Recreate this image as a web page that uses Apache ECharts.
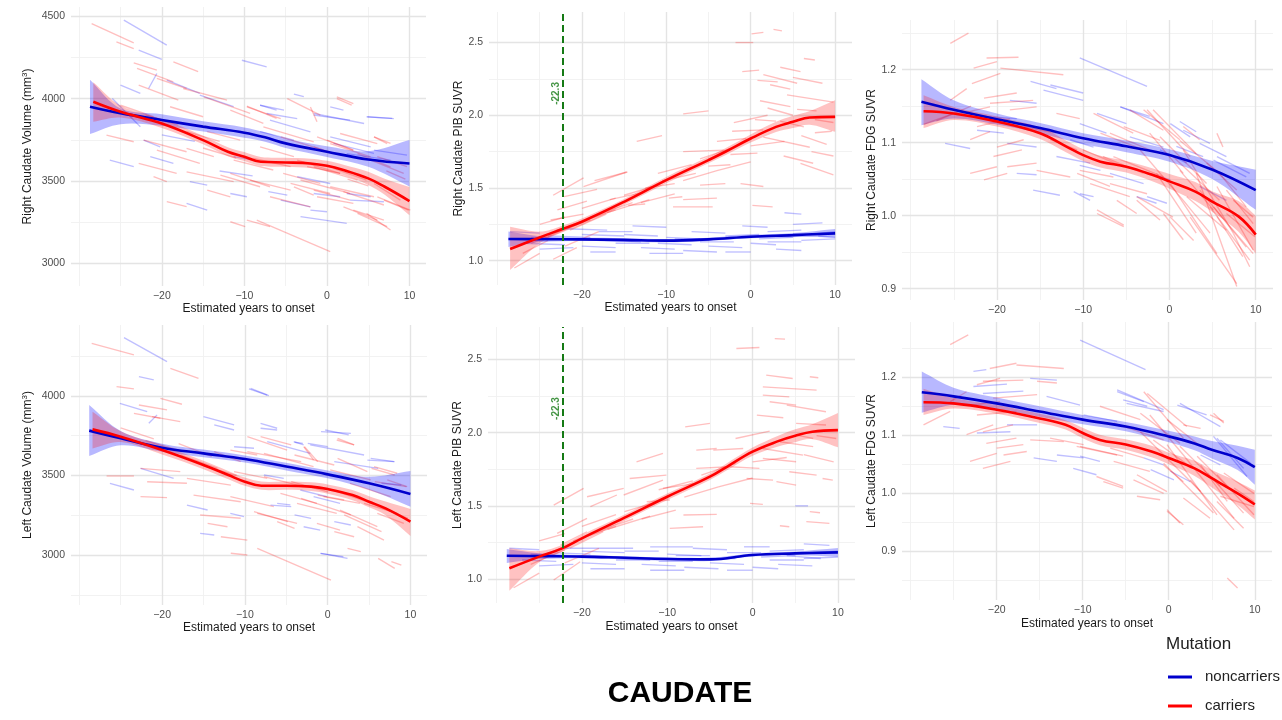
<!DOCTYPE html>
<html>
<head>
<meta charset="utf-8">
<script src="https://cdn.jsdelivr.net/npm/echarts@6/dist/echarts.min.js"></script>
<style>
  html, body { margin: 0; padding: 0; background: #ffffff; }
  #chart { width: 1282px; height: 720px; }
</style>
</head>
<body>
<div id="chart"></div>
<script>
// ---------------- shared axis values ----------------
const xTickLabels = [-20, -10, 0, 10];
const xGridMajor = [-20, -10, 0, 10];
const xGridMinor = [-30, -25, -15, -5, 5];
const onsetThreshold = -22.3;

const volMajorR = [3000, 3500, 4000, 4500];
const volMinorR = [3250, 3750, 4250];
const volMajorL = [3000, 3500, 4000];
const volMinorL = [2750, 3250, 3750, 4250];
const pibMajor = [1.0, 1.5, 2.0, 2.5];
const pibMinor = [1.25, 1.75, 2.25];
const fdgMajor = [0.9, 1.0, 1.1, 1.2];
const fdgMinorR = [0.95, 1.05, 1.15, 1.25];
const fdgMinorL = [0.85, 0.95, 1.05, 1.15, 1.25];

// ---------------- Right caudate volume ----------------
const rVolNonX    = [-28.7, -25, -20, -15, -10, -7.5, -5, 0, 5, 10];
const rVolNonMean = [3951, 3912, 3870, 3830, 3793, 3765, 3728, 3677, 3630, 3606];
const rVolNonLo   = [3785, 3845, 3835, 3800, 3762, 3738, 3700, 3645, 3585, 3465];
const rVolNonHi   = [4115, 3940, 3905, 3862, 3825, 3795, 3757, 3710, 3680, 3748];
const rVolCarX    = [-28.3, -25, -20, -15, -12, -10, -8, -5, -2, 0, 2, 5, 7, 10];
const rVolCarMean = [3981, 3920, 3849, 3748, 3677, 3647, 3616, 3612, 3606, 3592, 3566, 3515, 3464, 3377];
const rVolCarLo   = [3860, 3885, 3822, 3722, 3650, 3620, 3590, 3585, 3578, 3562, 3535, 3475, 3415, 3290];
const rVolCarHi   = [4100, 3958, 3876, 3775, 3705, 3675, 3645, 3640, 3635, 3622, 3598, 3555, 3512, 3462];
const rVolCarSeg = [
  [-28.5,4457,-23.4,4340],[-25.5,4346,-23.4,4305],[-23.4,4218,-20.6,4174],[-18.6,4224,-15.6,4164],
  [-23.0,4184,-18.6,4103],[-22.8,4082,-18.0,3991],[-20.6,4123,-17.0,4062],[-17.4,4062,-12.1,3991],
  [-14.9,4011,-9.3,3910],[-9.7,3955,-6.1,3880],[-4.8,4000,-0.8,3900],[1.2,4001,3.0,3961],
  [-26.7,3778,-23.4,3738],[-22.2,3748,-17.0,3677],[-20.6,3687,-15.4,3606],[-22.8,3606,-18.2,3545],
  [-21.0,3525,-19.4,3495],[-17.0,3555,-11.3,3495],[-14.5,3444,-11.7,3403],[-19.4,3373,-17.0,3343],
  [-12.9,3535,-8.1,3464],[-11.7,3251,-9.9,3221],[-8.5,3261,0.4,3069],[-8.9,3636,-4.4,3586],
  [-5.3,3545,-0.8,3484],[-4.0,3464,-1.6,3413],[-3.2,3505,2.8,3424],[-1.2,3403,3.2,3363],
  [0.8,3576,4.8,3505],[2.0,3434,6.9,3353],[3.2,3322,6.9,3261],[4.8,3302,7.7,3201],
  [5.7,3768,7.7,3728],[5.7,3484,8.9,3383],[6.9,3383,9.9,3322],[0.0,3748,3.2,3687],
  [-1.6,3707,0.8,3667],[-11.3,3626,-6.5,3566],[-8.1,3707,-4.0,3647],[-2.4,3586,1.6,3545],
  [-14.5,3799,-10.5,3748],[-17.0,3697,-13.7,3647],[6.1,3647,9.7,3586],[-19.0,3951,-15.0,3890],
  [-2.0,3950,-1.2,3860],[2.5,3510,5.0,3470],[7.2,3560,9.5,3510],
  [-11.7,3930,-7.7,3849],[-9.7,3950,-5.6,3879],[-7.7,3829,-1.6,3737],[-5.6,3768,-0.4,3687],
  [-3.6,3626,1.6,3545],[-1.6,3585,3.7,3504],[0.4,3727,5.3,3646],[1.6,3788,6.1,3727],
  [3.7,3666,7.7,3585],[5.3,3626,9.3,3545],[-11.7,3545,-6.9,3464],[-9.3,3504,-4.4,3443],
  [-6.9,3403,-2.0,3342],[-4.4,3484,0.4,3423],[-1.6,3443,2.8,3383],[0.4,3464,5.7,3403],
  [2.0,3342,6.1,3261],[3.7,3302,7.3,3221],[6.1,3403,10.1,3322],[-9.7,3261,-6.9,3221],
  [1.2,4011,3.2,3970],[5.7,3768,7.3,3727],[-1.2,3768,3.2,3687],
  [-25.0,3960,-21.0,3890],[-22.0,3900,-18.0,3840],[-17.0,3800,-13.0,3740],[-15.0,3700,-11.0,3640]
];
const rVolNonSeg = [
  [-24.6,4478,-19.4,4326],[-22.8,4295,-20.0,4239],[-10.3,4234,-7.3,4194],[-4.0,4028,-2.8,4012],
  [-21.6,4062,-20.6,4153],[-25.0,4082,-22.6,4032],[-19.4,4113,-15.4,4032],[-15.4,4022,-11.3,3951],
  [-8.1,3961,-6.1,3930],[-1.6,3900,2.8,3870],[4.8,3890,7.9,3880],[-26.0,4001,-22.6,3829],
  [-22.2,3748,-20.2,3707],[-26.3,3626,-23.4,3586],[-21.4,3647,-18.6,3606],[-16.6,3495,-14.5,3474],
  [-17.0,3363,-14.5,3322],[-7.1,3434,-4.8,3413],[-3.2,3282,2.4,3241],[0.8,3728,5.7,3667],
  [5.7,3687,9.7,3657],[2.8,3383,6.9,3373],[-8.1,3799,-4.0,3748],[-11.3,3647,-8.9,3626],
  [-2.0,3322,0.0,3312],[-20.0,3780,-16.0,3740],[-13.0,3560,-9.0,3530],
  [-8.1,3960,-5.2,3930],[-7.3,3910,-3.6,3879],[-6.9,3869,-2.0,3798],[-1.6,3910,4.5,3849],
  [4.9,3889,8.1,3879],[-3.6,3525,0.4,3484],[-1.6,3423,1.6,3403],[-5.6,3383,-2.0,3342],
  [2.4,3423,5.3,3403],[-11.7,3423,-9.7,3403],[0.4,3950,2.0,3930],[0.4,3768,5.3,3707],
  [2.4,3666,7.7,3626]
];

// ---------------- Right caudate PIB SUVR ----------------
const rPibNonX    = [-28.7, -25, -20, -15, -10, -5, 0, 5, 10];
const rPibNonMean = [1.149, 1.148, 1.147, 1.143, 1.138, 1.147, 1.165, 1.176, 1.188];
const rPibNonLo   = [1.095, 1.127, 1.135, 1.131, 1.127, 1.136, 1.154, 1.162, 1.160];
const rPibNonHi   = [1.200, 1.169, 1.159, 1.155, 1.149, 1.158, 1.176, 1.190, 1.218];
const rPibCarX    = [-28.5, -25, -22.3, -20, -15, -10, -5, -3, 0, 3, 5, 7, 10];
const rPibCarMean = [1.080, 1.160, 1.218, 1.268, 1.405, 1.554, 1.692, 1.749, 1.840, 1.920, 1.955, 1.985, 1.989];
const rPibCarLo   = [0.936, 1.120, 1.195, 1.245, 1.385, 1.532, 1.670, 1.725, 1.812, 1.885, 1.912, 1.935, 1.886];
const rPibCarHi   = [1.233, 1.200, 1.241, 1.290, 1.425, 1.576, 1.714, 1.773, 1.868, 1.955, 1.996, 2.030, 2.104];
const rPibCarSeg = [
  [-23.4,1.45,-19.8,1.57],[-19.8,1.51,-14.7,1.61],[-13.5,1.82,-10.5,1.86],[-8,2.01,-5,2.03],
  [-1.8,2.50,0.3,2.50],[0.1,2.56,1.5,2.57],[2.7,2.59,3.7,2.58],[6.3,2.39,7.6,2.38],
  [3.5,2.33,5.9,2.30],[1.5,2.28,5.5,2.22],[2.3,2.21,4.7,2.18],[0.8,2.24,3.2,2.23],
  [4.3,2.14,9.8,2.09],[1.1,2.10,4.7,2.06],[5.5,2.04,7.8,2.03],[-2.2,1.89,1.5,1.90],
  [1.5,1.85,7.0,1.78],[3.9,1.72,7.4,1.67],[-8,1.75,-3.2,1.76],[-5,1.65,-2.4,1.66],
  [-1.2,1.53,1.5,1.51],[-8,1.42,-4,1.43],[-9.2,1.37,-4.5,1.37],[0.2,1.38,2.6,1.37],
  [5.9,1.67,9.8,1.59],[-18.5,1.55,-14.6,1.61],[-22.1,1.44,-18.2,1.49],[-22.9,1.35,-19.4,1.41],
  [-23.7,1.28,-19.8,1.32],[-23,1.21,-19,1.28],[-23.4,1.01,-20.6,1.09],[-21.4,1.21,-17.1,1.32],
  [-14.5,1.38,-12.5,1.39],[-10.5,1.55,-6.5,1.60],[-12.5,1.50,-9,1.53],[-16.7,1.42,-12.7,1.47],
  [-9.7,1.43,-8.1,1.44],[7.6,1.88,9.6,1.89],[7.2,1.75,9.8,1.72],[7.6,1.97,9.8,1.95],
  [-2.4,1.73,0.8,1.74],[3.5,1.96,6.3,1.92],[0.5,1.97,3.0,1.96],[-4,1.82,-0.5,1.84],
  [5,2.26,8.5,2.22],[-1,2.30,1,2.31],[2,2.05,5,2.0],[6,1.86,9,1.80],
  [-26,1.12,-22,1.22],[-27,1.05,-24,1.14],[-20,1.36,-16,1.43],[-6,1.52,-3,1.53],
  [-24.5,1.15,-20.5,1.25],[-22,1.10,-18,1.20],[-21,1.25,-16,1.35],[-19,1.30,-14,1.40],
  [-17,1.33,-12,1.42],[-15,1.45,-11,1.52],[-13,1.40,-9,1.46],[-11,1.60,-7,1.66],
  [-8,1.55,-4,1.62],[-6,1.70,-2,1.78],[-4,1.62,0,1.68],[-2,1.95,2,2.0],
  [0,1.79,4,1.82],[-25,1.25,-22,1.30],[-28,0.95,-25,1.05]
];
const rPibNonSeg = [
  [-28.5,1.20,-25,1.19],[-27,1.12,-22,1.11],[-24,1.17,-19,1.16],[-22,1.22,-17,1.21],
  [-20,1.10,-16,1.09],[-19,1.06,-16,1.06],[-18,1.14,-13,1.13],[-15,1.18,-11,1.17],
  [-13,1.09,-9,1.08],[-11,1.12,-7,1.11],[-9,1.15,-5,1.15],[-7,1.20,-3,1.19],
  [-5,1.10,-1,1.09],[-3,1.17,1,1.18],[-1,1.24,2,1.23],[0,1.12,3,1.11],
  [1,1.15,5,1.16],[2,1.20,6,1.21],[4,1.33,6,1.32],[5,1.25,8.5,1.26],
  [6,1.14,10,1.15],[3,1.08,6,1.07],[-8,1.07,-4,1.06],[-16,1.12,-12,1.12],
  [-25,1.08,-21,1.09],[7,1.18,10,1.20],[-3,1.06,0,1.06],[-14,1.24,-10,1.23],
  [-26,1.16,-22,1.15],[-20,1.18,-15,1.17],[-10,1.16,-6,1.15],[-6,1.13,-2,1.13],
  [2,1.13,6,1.13],[8,1.17,10,1.16],[-12,1.05,-8,1.05],[-18,1.20,-14,1.20]
];

// ---------------- Right caudate FDG SUVR ----------------
const rFdgNonX    = [-28.75, -25, -20, -15, -10, -5, 0, 5, 10];
const rFdgNonMean = [1.156, 1.145, 1.132, 1.120, 1.106, 1.095, 1.083, 1.063, 1.035];
const rFdgNonLo   = [1.124, 1.133, 1.125, 1.113, 1.098, 1.087, 1.074, 1.050, 1.008];
const rFdgNonHi   = [1.187, 1.158, 1.140, 1.127, 1.113, 1.103, 1.091, 1.075, 1.063];
const rFdgCarX    = [-28.5, -25, -20, -15, -12, -10, -8, -5, -2, 0, 3, 5, 8, 10];
const rFdgCarMean = [1.143, 1.140, 1.129, 1.113, 1.095, 1.083, 1.074, 1.067, 1.056, 1.047, 1.033, 1.019, 0.999, 0.974];
const rFdgCarLo   = [1.120, 1.131, 1.122, 1.105, 1.087, 1.075, 1.066, 1.059, 1.047, 1.037, 1.020, 1.005, 0.978, 0.948];
const rFdgCarHi   = [1.165, 1.149, 1.136, 1.121, 1.103, 1.091, 1.082, 1.075, 1.065, 1.057, 1.046, 1.033, 1.020, 1.000];
const rFdgCarSeg = [
  [-25.4,1.236,-23.3,1.250],[-22.7,1.202,-20.0,1.211],[-21.2,1.216,-17.5,1.217],[-19.6,1.202,-12.3,1.193],
  [-22.9,1.181,-19.6,1.195],[-25.4,1.158,-23.5,1.174],[-21.5,1.161,-17.7,1.168],[-20.8,1.154,-15.8,1.158],
  [-24.2,1.140,-20.8,1.149],[-22.3,1.122,-18.5,1.133],[-23.1,1.104,-20.8,1.115],[-20.0,1.094,-16.9,1.104],
  [-20.4,1.081,-17.1,1.090],[-23.1,1.058,-20.0,1.067],[-21.5,1.049,-18.8,1.058],[-18.8,1.067,-15.4,1.072],
  [-15.4,1.062,-11.5,1.053],[-13.1,1.140,-10.4,1.133],[-18.5,1.145,-15.4,1.149],[-8.4,1.003,-5.3,0.985],
  [-3.0,1.145,1.2,1.104],[-2.3,1.113,1.6,1.058],[-3.4,1.090,1.6,1.021],[-1.5,1.058,3.1,0.976],
  [0.1,1.044,5.5,0.948],[1.6,1.090,7.4,0.976],[3.1,1.058,7.8,0.903],[4.7,1.012,9.3,0.939],
  [5.5,1.113,6.2,1.094],[5.5,1.040,9.7,0.953],[6.6,1.003,9.9,0.971],[-0.7,1.003,1.6,0.967],
  [-3.8,1.021,-1.1,0.994],[-7.7,1.081,-3.0,1.058],[-10.0,1.090,-5.3,1.067],[-10.7,1.058,-6.9,1.040],
  [-6.9,1.113,-2.3,1.090],[1.6,1.021,4.7,0.976],[7.4,1.021,9.7,0.998],[-13.8,1.104,-10.7,1.090],
  [-16.9,1.122,-13.1,1.113],[-6.1,1.021,-3.8,1.003],[1.6,1.122,3.5,1.104],[5.5,0.999,8.5,0.944],
  [7.4,0.976,9.3,0.930],[-28.5,1.125,-25.0,1.140],[-27.0,1.130,-23.0,1.150],
  [-8.8,1.140,-4.2,1.113],[-8.0,1.113,-3.4,1.092],[-6.5,1.081,-0.7,1.053],[-9.2,1.044,-4.6,1.026],
  [-8.4,1.008,-5.3,0.987],[-3.8,1.026,0.4,0.998],[-2.6,1.145,2.4,1.081],[-1.9,1.145,3.1,1.085],
  [-1.1,1.108,4.3,1.044],[0.4,1.081,5.8,1.021],[1.2,1.062,5.1,1.008],[2.0,1.026,6.6,0.980],
  [0.1,0.998,2.8,0.966],[2.4,0.998,7.8,0.907],[3.5,1.035,8.9,0.957],[5.1,1.012,9.7,0.948],
  [5.8,1.058,8.9,1.012],[4.3,1.072,7.8,1.035],[6.6,1.035,9.7,0.989],[1.2,1.103,5.8,1.058],
  [-5.3,1.122,-1.1,1.103],[-4.6,1.145,-0.7,1.117],[-10.4,1.062,-6.5,1.053],[-6.9,1.044,-2.6,1.030]
];
const rFdgNonSeg = [
  [-10.4,1.216,-2.6,1.177],[-16.1,1.184,-13.1,1.174],[-14.6,1.172,-10.0,1.158],[-13.8,1.179,-10.0,1.168],
  [-18.5,1.158,-15.4,1.154],[-5.7,1.149,-2.3,1.136],[-8.4,1.140,-5.0,1.126],[-22.3,1.117,-19.2,1.113],
  [-26.0,1.099,-23.1,1.092],[-18.8,1.099,-15.4,1.094],[-15.8,1.035,-12.7,1.028],[-11.1,1.033,-9.2,1.021],
  [-13.1,1.081,-9.2,1.072],[-2.3,1.058,0.1,1.049],[-1.1,1.090,2.0,1.072],[0.8,1.095,3.9,1.081],
  [3.5,1.040,6.6,1.021],[5.5,1.081,9.3,1.058],[-3.8,1.026,-1.5,1.017],[-6.9,1.058,-3.0,1.044],
  [1.6,1.117,4.7,1.099],[-21.5,1.136,-17.7,1.133],[-17.7,1.058,-15.4,1.056],[-11.5,1.104,-8.8,1.094],
  [-5.7,1.149,-0.7,1.126],[1.2,1.129,3.1,1.115],[3.5,1.099,6.6,1.081],[5.1,1.076,8.9,1.053],
  [-10.4,1.126,-7.3,1.113],[-4.6,1.108,-0.7,1.094],[-2.6,1.026,-0.3,1.017],[-10.4,1.030,-8.8,1.026],
  [-10.4,1.069,-8.0,1.062],[0.1,1.126,2.4,1.108]
];

// ---------------- Left caudate volume ----------------
const lVolNonX    = [-28.8, -25, -20, -15, -10, -5, 0, 5, 10];
const lVolNonMean = [3782, 3734, 3675, 3639, 3604, 3556, 3507, 3451, 3384];
const lVolNonLo   = [3623, 3690, 3650, 3615, 3582, 3532, 3482, 3410, 3304];
const lVolNonHi   = [3943, 3780, 3700, 3663, 3626, 3580, 3532, 3492, 3528];
const lVolCarX    = [-28.4, -25, -20, -15, -12, -10, -8, -5, -2, 0, 3, 5, 7, 10];
const lVolCarMean = [3790, 3744, 3660, 3566, 3503, 3461, 3436, 3436, 3430, 3415, 3377, 3335, 3293, 3210];
const lVolCarLo   = [3670, 3710, 3632, 3540, 3477, 3435, 3410, 3410, 3403, 3386, 3345, 3300, 3250, 3120];
const lVolCarHi   = [3900, 3778, 3688, 3592, 3529, 3487, 3462, 3462, 3457, 3444, 3409, 3370, 3336, 3290];
const lVolCarSeg = [
  [-28.5,4331,-23.4,4258],[-25.5,4059,-23.4,4044],[-19.0,4174,-15.6,4111],[-22.8,3943,-19.4,3912],
  [-20.2,3985,-17.6,3948],[-23.4,3891,-20.2,3860],[-21.2,3870,-17.8,3839],[-26.7,3497,-23.4,3497],
  [-22.6,3545,-17.8,3524],[-21.8,3461,-17.0,3451],[-22.6,3367,-19.4,3361],[-17.0,3482,-11.7,3440],
  [-16.2,3377,-10.5,3335],[-15.4,3252,-10.5,3231],[-14.5,3199,-12.1,3178],[-12.9,3115,-9.7,3094],
  [-11.7,3011,-9.7,3000],[-8.5,3042,0.4,2843],[-8.1,3744,-4.4,3692],[-9.7,3650,-3.2,3587],
  [-4.0,3629,0.8,3566],[-2.8,3681,-1.2,3587],[1.2,3734,3.2,3692],[-4.4,3461,0.0,3398],
  [-3.2,3356,2.8,3252],[0.0,3419,4.8,3335],[2.0,3252,6.5,3147],[0.8,3147,3.2,3115],
  [2.4,3042,4.0,3021],[6.1,2979,8.1,2916],[7.7,2958,8.9,2937],[5.3,3545,8.1,3503],
  [4.8,3335,9.7,3231],[5.7,3461,9.5,3430],[-8.9,3273,-4.8,3210],[-6.1,3210,-4.0,3168],
  [-1.2,3377,2.0,3346],[-13.7,3650,-10.5,3587],[-17.8,3629,-13.3,3545],[1.2,3608,4.8,3524],
  [-11.3,3524,-7.3,3482],
  [-9.7,3744,-4.9,3660],[-7.7,3639,-1.7,3556],[-2.9,3681,-1.7,3598],[1.1,3723,3.2,3692],
  [0.3,3535,5.2,3472],[2.7,3451,7.6,3367],[4.4,3325,8.4,3262],[6.0,3262,9.2,3199],
  [-11.75,3367,-6.5,3304],[-8.5,3262,-3.7,3199],[-3.7,3325,1.1,3262],[-1.3,3199,1.5,3157],
  [1.5,3283,6.0,3178],[3.6,3178,6.8,3094],[-5.7,3388,-1.3,3325],[-0.5,3367,3.9,3325],
  [5.6,3556,8.4,3514],[7.2,3472,9.6,3430],[-11.75,3660,-8.5,3629],[-7.7,3493,-2.9,3430],
  [-25.0,3800,-21.0,3730],[-22.0,3720,-18.0,3660],[-18.0,3700,-14.0,3620],[-15.0,3560,-11.0,3500]
];
const lVolNonSeg = [
  [-24.6,4367,-19.4,4216],[-22.8,4122,-21.0,4101],[-9.5,4044,-7.1,4002],[-4.0,3709,-3.0,3702],
  [-21.6,3828,-20.6,3881],[-25.1,3954,-21.8,3901],[-15.0,3870,-11.3,3818],[-13.7,3818,-11.3,3786],
  [-8.1,3797,-6.1,3786],[-0.8,3776,2.8,3765],[4.8,3597,8.1,3587],[-26.3,3451,-23.4,3409],
  [-22.6,3545,-18.6,3482],[-17.0,3314,-14.5,3283],[-15.4,3136,-13.7,3126],[-6.9,3314,-4.4,3304],
  [-4.0,3252,-2.0,3231],[-0.8,3011,2.4,2979],[0.8,3587,6.1,3545],[0.8,3210,2.8,3189],
  [-7.7,3503,-5.3,3482],[-11.3,3681,-8.9,3671],[-2.4,3702,0.0,3681],[6.5,3451,8.9,3440],
  [-8.1,3828,-6.1,3797],[-7.3,3713,-2.1,3639],[-4.1,3713,-2.9,3692],[-0.3,3786,2.55,3755],
  [-2.1,3692,4.4,3629],[5.2,3608,8.0,3587],[-9.3,4048,-7.3,4006],[-3.3,3409,-0.1,3367],
  [-2.9,3178,-0.9,3157],[-11.75,3262,-10.1,3241],[-0.9,3011,1.9,2990],[-1.7,3367,1.5,3325],
  [-6.1,3325,-4.5,3315]
];

// ---------------- Left caudate PIB SUVR ----------------
const lPibNonX    = [-28.8, -25, -20, -15, -10, -5, 0, 5, 10];
const lPibNonMean = [1.159, 1.156, 1.153, 1.145, 1.137, 1.134, 1.164, 1.175, 1.182];
const lPibNonLo   = [1.110, 1.136, 1.142, 1.134, 1.126, 1.123, 1.153, 1.162, 1.152];
const lPibNonHi   = [1.205, 1.176, 1.164, 1.156, 1.148, 1.145, 1.175, 1.188, 1.212];
const lPibCarX    = [-28.5, -25, -22.3, -20, -15, -10, -5, -3, 0, 3, 5, 7, 10];
const lPibCarMean = [1.073, 1.153, 1.209, 1.278, 1.419, 1.562, 1.699, 1.767, 1.870, 1.942, 1.979, 2.006, 2.017];
const lPibCarLo   = [0.920, 1.115, 1.186, 1.255, 1.398, 1.540, 1.677, 1.743, 1.842, 1.905, 1.935, 1.955, 1.900];
const lPibCarHi   = [1.210, 1.191, 1.232, 1.301, 1.440, 1.584, 1.721, 1.791, 1.898, 1.979, 2.023, 2.057, 2.134];
const lPibCarSeg = [
  [-1.9,2.575,0.8,2.582],[2.6,2.643,3.8,2.639],[1.6,2.393,4.7,2.370],[6.7,2.382,7.7,2.375],
  [1.2,2.313,7.5,2.291],[1.2,2.256,4.3,2.245],[4.0,2.188,8.6,2.143],[0.5,2.120,3.6,2.102],
  [5.1,2.063,8.6,2.052],[-7.9,2.040,-5.0,2.063],[-6.6,1.881,-4.2,1.892],[-13.6,1.801,-10.5,1.858],
  [-19.0,1.494,-15.9,1.574],[-19.4,1.562,-15.1,1.619],[-15.1,1.574,-10.5,1.676],[-14.4,1.687,-10.1,1.710],
  [-23.3,1.505,-19.8,1.619],[-22.9,1.312,-19.4,1.414],[-22.5,1.232,-19.4,1.323],[-23.3,0.993,-20.2,1.118],
  [-21.4,1.210,-17.5,1.323],[-6.6,1.756,-2.7,1.767],[-2.7,1.767,0.8,1.756],[-0.7,1.687,2.4,1.676],
  [1.2,1.892,5.9,1.847],[4.3,1.733,7.5,1.710],[2.8,1.665,5.1,1.642],[-8.1,1.437,-4.2,1.442],
  [-9.7,1.346,-5.8,1.357],[-0.3,1.517,1.2,1.510],[3.2,1.364,4.3,1.357],[6.7,1.460,7.9,1.453],
  [8.2,1.687,9.4,1.676],[-4.6,1.881,-1.1,1.892],[5.1,1.983,7.1,1.961],[-12.4,1.528,-9.7,1.540],
  [-10.5,1.619,-6.6,1.653],[1.2,1.824,5.1,1.801],[2.0,2.211,5.1,2.188],[6.3,1.392,9.0,1.380],
  [3.2,1.938,7.1,1.904],[-26.0,1.10,-22.0,1.20],[-20.0,1.36,-16.0,1.44],
  [-24.5,1.16,-20.5,1.26],[-22,1.11,-18,1.21],[-21,1.26,-16,1.36],[-19,1.31,-14,1.41],
  [-17,1.34,-12,1.43],[-15,1.46,-11,1.53],[-13,1.41,-9,1.47],[-11,1.61,-7,1.67],
  [-8,1.56,-4,1.63],[-6,1.71,-2,1.79],[-4,1.63,0,1.69],[-2,1.96,2,2.01],
  [0,1.80,4,1.83],[-25,1.26,-22,1.31],[-28,0.94,-25,1.04],[6,1.85,9.5,1.80],[7.5,1.98,9.8,1.96]
];
const lPibNonSeg = [
  [-28.5,1.21,-25,1.20],[-27,1.13,-23,1.12],[-24,1.18,-19,1.17],[-22,1.21,-18,1.21],
  [-20,1.11,-16,1.10],[-19,1.07,-15,1.07],[-17,1.15,-12,1.14],[-15,1.19,-11,1.19],
  [-13,1.10,-9,1.09],[-11,1.12,-7,1.12],[-9,1.16,-5,1.16],[-7,1.21,-3,1.20],
  [-5,1.11,-1,1.10],[-3,1.18,1,1.18],[-1,1.22,2,1.22],[0,1.08,3,1.07],
  [1,1.15,5,1.16],[2,1.19,6,1.20],[5,1.50,6.5,1.50],[6,1.24,9,1.23],
  [6,1.14,10,1.15],[3,1.10,7,1.09],[-8,1.08,-4,1.07],[-16,1.13,-12,1.13],
  [-25,1.09,-21,1.10],[7,1.18,10,1.19],[-3,1.06,0,1.06],[-12,1.22,-7,1.22],[4,1.16,8,1.14],
  [-26,1.17,-22,1.16],[-20,1.19,-15,1.18],[-10,1.17,-6,1.16],[-6,1.14,-2,1.14],
  [2,1.13,6,1.13],[-12,1.06,-8,1.06],[-18,1.21,-14,1.21]
];

// ---------------- Left caudate FDG SUVR ----------------
const lFdgNonX    = [-28.7, -25, -20, -15, -10, -5, 0, 3, 5, 8, 10];
const lFdgNonMean = [1.174, 1.167, 1.155, 1.141, 1.127, 1.115, 1.098, 1.086, 1.075, 1.061, 1.045];
const lFdgNonLo   = [1.139, 1.152, 1.145, 1.132, 1.119, 1.107, 1.088, 1.074, 1.060, 1.040, 1.015];
const lFdgNonHi   = [1.210, 1.182, 1.165, 1.150, 1.135, 1.123, 1.108, 1.098, 1.090, 1.082, 1.075];
const lFdgCarX    = [-28.5, -25, -20, -15, -12, -10, -8, -5, -2, 0, 3, 5, 8, 10];
const lFdgCarMean = [1.157, 1.155, 1.144, 1.129, 1.118, 1.104, 1.092, 1.084, 1.072, 1.061, 1.043, 1.026, 1.000, 0.981];
const lFdgCarLo   = [1.135, 1.146, 1.137, 1.121, 1.110, 1.095, 1.083, 1.075, 1.062, 1.050, 1.030, 1.010, 0.980, 0.955];
const lFdgCarHi   = [1.180, 1.164, 1.152, 1.137, 1.126, 1.113, 1.101, 1.093, 1.082, 1.070, 1.056, 1.040, 1.020, 1.005];
const lFdgCarSeg = [
  [-25.4,1.256,-23.3,1.273],[-22.3,1.187,-19.6,1.198],[-20.8,1.215,-17.7,1.224],[-17.7,1.221,-12.2,1.215],
  [-21.6,1.193,-16.9,1.195],[-28.5,1.118,-25.4,1.141],[-25.4,1.158,-23.5,1.175],[-23.1,1.152,-19.6,1.158],
  [-20.4,1.164,-15.3,1.170],[-22.3,1.135,-17.7,1.141],[-23.5,1.101,-20.4,1.118],[-21.6,1.106,-18.1,1.118],
  [-21.2,1.086,-17.7,1.095],[-20.0,1.078,-16.9,1.084],[-23.1,1.055,-20.0,1.069],[-21.6,1.043,-18.4,1.055],
  [-19.2,1.066,-16.5,1.072],[-16.1,1.092,-12.2,1.089],[-13.8,1.095,-9.9,1.084],[-7.6,1.020,-5.3,1.009],
  [-10.7,1.081,-6.0,1.066],[-2.9,1.175,1.7,1.095],[-2.2,1.135,1.7,1.066],[-3.3,1.106,3.7,1.003],
  [-0.2,1.084,5.6,0.963],[-0.6,1.049,1.7,1.020],[1.7,1.066,7.6,0.957],[3.7,1.049,6.8,0.986],
  [4.8,1.135,6.4,1.124],[5.6,1.032,9.9,0.963],[7.6,1.009,9.9,0.986],[1.7,1.118,3.7,1.112],
  [-0.2,0.969,1.7,0.946],[-3.7,1.032,-0.2,1.003],[-6.4,1.055,-2.2,1.038],[6.8,0.854,8.0,0.837],
  [5.6,0.986,8.7,0.940],[-6.8,1.078,-2.9,1.061],[1.7,0.992,4.8,0.957],[-15.3,1.193,-13.0,1.190],
  [-2.5,1.172,2.1,1.115],[-8.0,1.150,-3.3,1.127],[-6.4,1.121,-0.6,1.092],[-3.3,1.138,1.3,1.086],
  [-0.2,1.127,3.7,1.081],[1.3,1.081,6.0,1.012],[-0.6,1.052,5.2,0.966],[2.5,1.023,7.6,0.937],
  [4.5,1.035,8.7,0.966],[6.0,0.995,9.9,0.977],[-10.3,1.081,-5.3,1.064],[-8.4,1.029,-5.3,1.012],
  [-4.1,1.023,-0.6,1.000],[-3.7,0.995,-1.0,0.989],[-0.2,0.972,1.3,0.949],[5.2,1.138,6.4,1.121],
  [-1.8,1.092,2.5,1.046],[6.4,1.035,9.9,1.000],[3.3,1.064,7.2,1.006]
];
const lFdgNonSeg = [
  [-10.3,1.264,-2.7,1.213],[-22.7,1.210,-21.2,1.213],[-16.1,1.198,-13.0,1.195],[-22.7,1.184,-18.8,1.188],
  [-21.6,1.172,-16.9,1.176],[-14.2,1.167,-10.3,1.152],[-26.2,1.115,-24.3,1.112],[-22.3,1.104,-18.4,1.106],
  [-18.8,1.118,-15.3,1.118],[-15.7,1.061,-13.0,1.055],[-11.1,1.043,-8.4,1.032],[-13.0,1.066,-9.9,1.061],
  [-6.0,1.175,-2.9,1.158],[-4.9,1.155,-0.6,1.141],[1.0,1.152,4.4,1.135],[5.6,1.095,8.7,1.043],
  [-2.9,1.061,-0.6,1.049],[0.2,1.038,2.5,1.020],[3.7,1.066,6.0,1.049],[-9.9,1.135,-6.0,1.124],
  [-6.0,1.178,-0.6,1.144],[1.3,1.155,3.3,1.138],[3.3,1.138,6.0,1.115],[5.2,1.098,9.1,1.029],
  [6.0,1.092,9.5,1.052],[-10.3,1.064,-8.0,1.055],[-2.1,1.041,0.6,1.023],[-5.3,1.161,-2.5,1.150]
];

// ---------------- layout & styling ----------------
const FONT = '"Liberation Sans", Arial, Helvetica, sans-serif';
const NON_COLOR = '#0000cc';
const CAR_COLOR = '#ff0000';
const NON_BAND = 'rgba(0,0,255,0.28)';
const CAR_BAND = 'rgba(255,0,0,0.24)';
const NON_SEG = 'rgba(0,0,255,0.25)';
const CAR_SEG = 'rgba(255,0,0,0.25)';
const THRESH_COLOR = '#157a15';
const X_TITLE = 'Estimated years to onset';

// tick labels use a typographic minus sign
const fmtTick = (v, dec) => {
  const s = Math.abs(Number(v)).toFixed(dec);
  return Number(v) < 0 ? '\u2212' + s : s;
};

const panels = [
  { rect: [71, 7, 355, 279], yRange: [2860, 4558], yMajor: volMajorR, yMinor: volMinorR, dec: 0,
    yName: 'Right Caudate Volume (mm{sup|3})', yGap: 36, xName: X_TITLE, xGap: 17,
    non: [rVolNonX, rVolNonMean, rVolNonLo, rVolNonHi, rVolNonSeg],
    car: [rVolCarX, rVolCarMean, rVolCarLo, rVolCarHi, rVolCarSeg] },
  { rect: [489, 12, 363, 273], yRange: [0.833, 2.71], yMajor: pibMajor, yMinor: pibMinor, dec: 1,
    yName: 'Right Caudate PIB SUVR', yGap: 22, xName: X_TITLE, xGap: 15, thresholdLabelY: 2.15,
    non: [rPibNonX, rPibNonMean, rPibNonLo, rPibNonHi, rPibNonSeg],
    car: [rPibCarX, rPibCarMean, rPibCarLo, rPibCarHi, rPibCarSeg] },
  { rect: [902, 20, 371, 280], yRange: [0.8845, 1.268], yMajor: fdgMajor, yMinor: fdgMinorR, dec: 1,
    yName: 'Right Caudate FDG SUVR', yGap: 22, xName: '', xGap: 15,
    non: [rFdgNonX, rFdgNonMean, rFdgNonLo, rFdgNonHi, rFdgNonSeg],
    car: [rFdgCarX, rFdgCarMean, rFdgCarLo, rFdgCarHi, rFdgCarSeg] },
  { rect: [71, 325, 356, 280], yRange: [2686, 4446], yMajor: volMajorL, yMinor: volMinorL, dec: 0,
    yName: 'Left Caudate Volume (mm{sup|3})', yGap: 36, xName: X_TITLE, xGap: 16,
    non: [lVolNonX, lVolNonMean, lVolNonLo, lVolNonHi, lVolNonSeg],
    car: [lVolCarX, lVolCarMean, lVolCarLo, lVolCarHi, lVolCarSeg] },
  { rect: [488, 327, 367, 276], yRange: [0.836, 2.722], yMajor: pibMajor, yMinor: pibMinor, dec: 1,
    yName: 'Left Caudate PIB SUVR', yGap: 22, xName: X_TITLE, xGap: 18, thresholdLabelY: 2.165,
    non: [lPibNonX, lPibNonMean, lPibNonLo, lPibNonHi, lPibNonSeg],
    car: [lPibCarX, lPibCarMean, lPibCarLo, lPibCarHi, lPibCarSeg] },
  { rect: [902, 322, 370, 278], yRange: [0.8163, 1.2951], yMajor: fdgMajor, yMinor: fdgMinorL, dec: 1,
    yName: 'Left Caudate FDG SUVR', yGap: 22, xName: X_TITLE, xGap: 18,
    non: [lFdgNonX, lFdgNonMean, lFdgNonLo, lFdgNonHi, lFdgNonSeg],
    car: [lFdgCarX, lFdgCarMean, lFdgCarLo, lFdgCarHi, lFdgCarSeg] }
];

const grid = [], xAxis = [], yAxis = [], series = [];

const majorLine = { color: '#e4e4e4', width: 1.4, type: 'solid' };
const minorLine = { color: '#f0f0f0', width: 0.9, type: 'solid' };

function segmentSeries(i, segs, color) {
  return {
    type: 'custom', xAxisIndex: i, yAxisIndex: i, silent: true, clip: true, z: 2,
    data: segs, encode: { x: [0, 2], y: [1, 3] },
    renderItem: function (params, api) {
      const a = api.coord([api.value(0), api.value(1)]);
      const b = api.coord([api.value(2), api.value(3)]);
      return { type: 'line', shape: { x1: a[0], y1: a[1], x2: b[0], y2: b[1] },
               style: { stroke: color, lineWidth: 1.35, fill: null } };
    }
  };
}

// Confidence band drawn as one smoothed polygon (upper edge, then lower edge reversed).
// End points are doubled so the band closes with straight vertical edges.
function bandSeries(i, xs, lo, hi, color) {
  return {
    type: 'custom', xAxisIndex: i, yAxisIndex: i, silent: true, clip: true, z: 3,
    data: [[xs[0], lo[0]]],
    renderItem: function (params, api) {
      const upper = xs.map((x, k) => api.coord([x, hi[k]]));
      const lower = xs.map((x, k) => api.coord([x, lo[k]])).reverse();
      const pts = [upper[0]].concat(upper, [upper[upper.length - 1]],
                                    [lower[0]], lower, [lower[lower.length - 1]]);
      return { type: 'polygon', shape: { points: pts, smooth: 0.35 }, style: { fill: color } };
    }
  };
}

function meanSeries(i, xs, ys, color) {
  return {
    type: 'line', xAxisIndex: i, yAxisIndex: i, silent: true, z: 4,
    data: xs.map((x, k) => [x, ys[k]]),
    smooth: 0.4, showSymbol: false, symbol: 'none',
    lineStyle: { color: color, width: 2.6 }
  };
}

panels.forEach((p, i) => {
  grid.push({ left: p.rect[0], top: p.rect[1], width: p.rect[2], height: p.rect[3], containLabel: false });
  xAxis.push({
    type: 'value', gridIndex: i, min: -31, max: 12,
    axisLine: { show: false }, axisTick: { show: false }, splitLine: { show: false },
    axisLabel: { customValues: xTickLabels, formatter: v => fmtTick(v, 0),
                 color: '#4d4d4d', fontSize: 10.5, fontFamily: FONT, margin: 5 },
    name: p.xName, nameLocation: 'middle', nameGap: p.xGap,
    nameTextStyle: { color: '#1a1a1a', fontSize: 12, fontFamily: FONT }
  });
  yAxis.push({
    type: 'value', gridIndex: i, min: p.yRange[0], max: p.yRange[1],
    axisLine: { show: false }, axisTick: { show: false }, splitLine: { show: false },
    axisLabel: { customValues: p.yMajor, formatter: v => fmtTick(v, p.dec),
                 color: '#4d4d4d', fontSize: 10.5, fontFamily: FONT, margin: 6 },
    name: p.yName, nameLocation: 'middle', nameGap: p.yGap,
    nameTextStyle: { color: '#1a1a1a', fontSize: 12, fontFamily: FONT,
      rich: { sup: { fontSize: 8, fontFamily: FONT, color: '#1a1a1a', verticalAlign: 'top', lineHeight: 14 } } }
  });

  // panel grid lines
  const gridLines = []
    .concat(xGridMinor.map(v => ({ xAxis: v, lineStyle: minorLine })))
    .concat(p.yMinor.map(v => ({ yAxis: v, lineStyle: minorLine })))
    .concat(xGridMajor.map(v => ({ xAxis: v, lineStyle: majorLine })))
    .concat(p.yMajor.map(v => ({ yAxis: v, lineStyle: majorLine })));
  series.push({
    type: 'line', xAxisIndex: i, yAxisIndex: i, silent: true, z: 0,
    data: [[p.non[0][0], p.non[1][0]]], showSymbol: false, symbol: 'none', lineStyle: { opacity: 0 },
    markLine: { silent: true, symbol: ['none', 'none'], animation: false, z: 0,
                label: { show: false }, emphasis: { disabled: true }, data: gridLines }
  });

  series.push(segmentSeries(i, p.non[4], NON_SEG));
  series.push(segmentSeries(i, p.car[4], CAR_SEG));
  series.push(bandSeries(i, p.non[0], p.non[2], p.non[3], NON_BAND));
  series.push(bandSeries(i, p.car[0], p.car[2], p.car[3], CAR_BAND));
  series.push(meanSeries(i, p.non[0], p.non[1], NON_COLOR));
  series.push(meanSeries(i, p.car[0], p.car[1], CAR_COLOR));

  if (p.thresholdLabelY !== undefined) {
    series.push({
      type: 'scatter', xAxisIndex: i, yAxisIndex: i, silent: true, z: 6,
      data: [[onsetThreshold, p.thresholdLabelY]], symbolSize: 0,
      label: { show: true, formatter: String(onsetThreshold), rotate: 90, position: 'inside',
               offset: [0, -6], color: THRESH_COLOR, fontSize: 10, fontWeight: 'bold', fontFamily: FONT },
      markLine: { silent: true, symbol: ['none', 'none'], animation: false, z: 6,
                  label: { show: false }, emphasis: { disabled: true },
                  lineStyle: { color: THRESH_COLOR, type: [7, 4], width: 2 },
                  data: [{ xAxis: onsetThreshold }] }
    });
  }
});

const graphic = [
  { type: 'text', x: 680, y: 694,
    style: { text: 'CAUDATE', fill: '#000000', font: 'bold 30px ' + FONT, textAlign: 'center', textVerticalAlign: 'middle' } },
  { type: 'text', x: 1166, y: 644,
    style: { text: 'Mutation', fill: '#222222', font: '17px ' + FONT, textAlign: 'left', textVerticalAlign: 'middle' } },
  { type: 'line', shape: { x1: 1168, y1: 677, x2: 1192, y2: 677 }, style: { stroke: NON_COLOR, lineWidth: 3 } },
  { type: 'text', x: 1205, y: 677,
    style: { text: 'noncarriers', fill: '#222222', font: '15px ' + FONT, textAlign: 'left', textVerticalAlign: 'middle' } },
  { type: 'line', shape: { x1: 1168, y1: 706, x2: 1192, y2: 706 }, style: { stroke: CAR_COLOR, lineWidth: 3 } },
  { type: 'text', x: 1205, y: 706,
    style: { text: 'carriers', fill: '#222222', font: '15px ' + FONT, textAlign: 'left', textVerticalAlign: 'middle' } }
];

const chart = echarts.init(document.getElementById('chart'), null, { renderer: 'canvas' });
chart.setOption({
  backgroundColor: '#ffffff',
  animation: false,
  grid: grid, xAxis: xAxis, yAxis: yAxis, series: series, graphic: graphic
});
</script>
</body>
</html>
